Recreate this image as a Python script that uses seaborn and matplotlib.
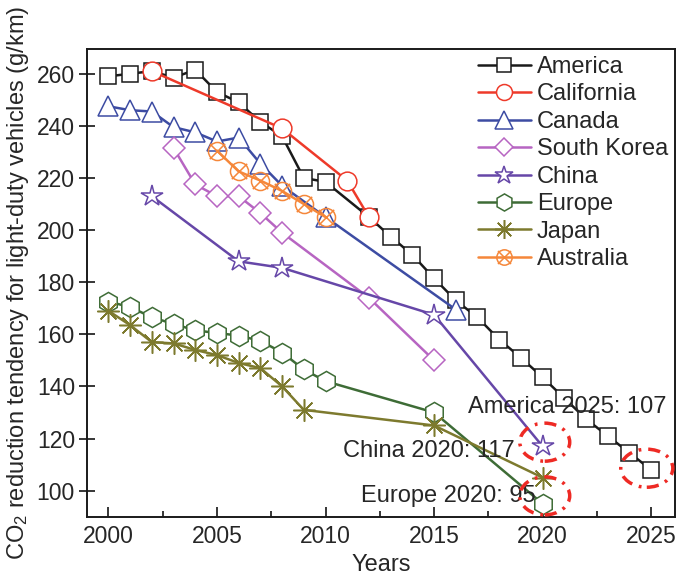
import numpy as np
import pandas as pd
import matplotlib
matplotlib.use("Agg")
import matplotlib.pyplot as plt
from matplotlib.path import Path
from matplotlib.patches import Ellipse
from matplotlib.ticker import MultipleLocator
import seaborn as sns

# ---------------- data ----------------
america_years = [2000, 2001, 2002, 2003, 2004, 2005, 2006, 2007, 2008, 2009, 2010,
                 2012, 2013, 2014, 2015, 2016, 2017, 2018, 2019, 2020, 2021, 2022, 2023, 2024, 2025]
america_vals = [259, 260, 261, 258.5, 261.5, 253, 249, 241.5, 236, 220, 218.5,
                205, 197.5, 190.5, 181.5, 173, 166.5, 158, 151, 143.5, 135.5, 127.5, 121, 114.5, 108]

california_years = [2002, 2008, 2011, 2012]
california_vals = [261, 239, 219, 205]

canada_years = [2000, 2001, 2002, 2003, 2004, 2005, 2006, 2007, 2008, 2010, 2016]
canada_vals = [247.5, 246, 245.5, 239.5, 237.5, 234, 235.5, 225.5, 217, 205, 169.5]

korea_years = [2003, 2004, 2005, 2006, 2007, 2008, 2012, 2015]
korea_vals = [231.5, 217.5, 213, 213, 206.5, 199, 174, 150]

china_years = [2002, 2006, 2008, 2015, 2020]
china_vals = [213, 188, 185.5, 167.5, 117]

europe_years = [2000, 2001, 2002, 2003, 2004, 2005, 2006, 2007, 2008, 2009, 2010, 2015, 2020]
europe_vals = [172.5, 170.5, 166.5, 164, 161.5, 160.5, 159.5, 157.5, 153, 146.5, 142, 130, 95]

japan_years = [2000, 2001, 2002, 2003, 2004, 2005, 2006, 2007, 2008, 2009, 2015, 2020]
japan_vals = [169, 163.5, 157, 156.5, 154, 152, 149, 147, 140, 131, 125, 105]

australia_years = [2005, 2006, 2007, 2008, 2009, 2010]
australia_vals = [230.5, 222.5, 219, 215, 210, 205]

annotations = ["America 2025: 107", "China 2020: 117", "Europe 2020: 95"]

# ---------------- style ----------------
sns.set_style("ticks")
plt.rcParams["font.family"] = ["Liberation Sans", "DejaVu Sans"]
plt.rcParams["mathtext.default"] = "regular"

circle_x = Path.make_compound_path(
    Path.unit_circle(),
    Path([[-0.85, -0.85], [0.85, 0.85]]),
    Path([[-0.85, 0.85], [0.85, -0.85]]),
)

series = [
    ("America", america_years, america_vals, "#1a1a1a", "s", 12.0),
    ("California", california_years, california_vals, "#ee3a2a", "o", 13.5),
    ("Canada", canada_years, canada_vals, "#3d4ca3", "^", 14.5),
    ("South Korea", korea_years, korea_vals, "#b765c2", "D", 11.0),
    ("China", china_years, china_vals, "#6647a8", "*", 16.0),
    ("Europe", europe_years, europe_vals, "#3e6c36", "h", 14.5),
    ("Japan", japan_years, japan_vals, "#7d7a2e", (8, 2, 0), 16.0),
    ("Australia", australia_years, australia_vals, "#f5873a", circle_x, 13.0),
]

fig = plt.figure(figsize=(6.85, 5.81), dpi=100)
ax = fig.add_axes([0.1266, 0.1107, 0.8588, 0.805])

for name, yrs, vals, col, mk, ms in series:
    df = pd.DataFrame({"year": yrs, "value": vals})
    sns.lineplot(data=df, x="year", y="value", ax=ax, color=col, marker=mk,
                 markersize=ms, markerfacecolor="white" if name != "Australia" else "none",
                 markeredgecolor=col, markeredgewidth=1.1, linewidth=1.8,
                 label=name, errorbar=None)

# red dash-dot ellipses
ell_kw = dict(fill=False, ec="#ee2a24", lw=2.5, ls=(0, (3.5, 2.0, 0.8, 2.0)), zorder=5)
ax.add_patch(Ellipse((2020.1, 118.6), 2.3, 14.6, **ell_kw))
ax.add_patch(Ellipse((2020.1, 98.0), 2.3, 14.6, **ell_kw))
ax.add_patch(Ellipse((2024.8, 108.6), 2.4, 14.6, **ell_kw))

ax.text(2016.55, 132.0, annotations[0], fontsize=17, ha="left", va="center")
ax.text(2010.8, 115.2, annotations[1], fontsize=17, ha="left", va="center")
ax.text(2011.63, 98.0, annotations[2], fontsize=17, ha="left", va="center")

ax.set_xlim(1999, 2026.1)
ax.set_ylim(90, 269.5)
ax.xaxis.set_major_locator(MultipleLocator(5))
ax.xaxis.set_minor_locator(MultipleLocator(2.5))
ax.set_yticks(np.arange(100, 261, 20))
ax.tick_params(axis="x", which="major", direction="in", length=7, width=1.3, labelsize=16.5, pad=6)
ax.tick_params(axis="x", which="minor", direction="in", length=4, width=1.3)
ax.tick_params(axis="y", which="major", direction="inout", length=11, width=1.3, labelsize=16.5, pad=3)
for sp in ax.spines.values():
    sp.set_visible(True)
    sp.set_linewidth(1.4)
    sp.set_color("#1a1a1a")

ax.set_xlabel("Years", fontsize=17, labelpad=4)
ax.set_ylabel("CO$_2$ reduction tendency for light-duty vehicles (g/km)", fontsize=17, labelpad=4)

ax.legend(loc="upper right", frameon=False, fontsize=17, handlelength=2.25,
          handletextpad=0.25, labelspacing=0.23, borderaxespad=0.0, borderpad=0.3,
          markerscale=0.85)

fig.savefig("out.png", dpi=100)
